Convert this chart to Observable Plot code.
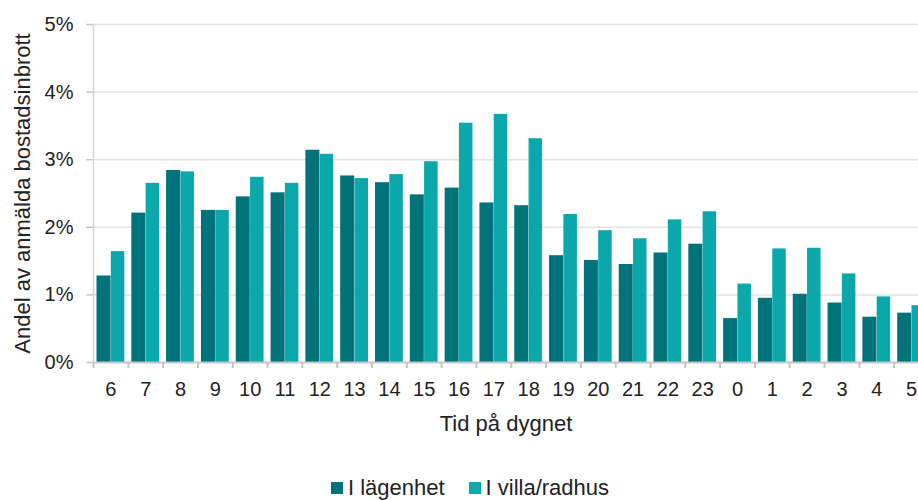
<!DOCTYPE html>
<html>
<head>
<meta charset="utf-8">
<script src="https://cdn.jsdelivr.net/npm/d3@7"></script>
<script src="https://cdn.jsdelivr.net/npm/@observablehq/plot@0.6"></script>
<style>
  html, body { margin: 0; padding: 0; background: #fff; overflow: hidden; width: 918px; height: 500px; }
  #chart svg { overflow: hidden; display: block; }
  #legend { position: absolute; top: 475px; left: 0; width: 918px; display: flex; justify-content: center;
    font-family: "Liberation Sans", Arial, sans-serif; font-size: 22px; color: #222; padding-left: 22px; box-sizing: border-box; }
  .item { display: flex; align-items: center; margin: 0 12px; }
  .sw { width: 12px; height: 12px; margin-right: 5px; }
</style>
</head>
<body>
<div id="chart"></div>
<div id="legend"></div>
<script>
const hours = ["6","7","8","9","10","11","12","13","14","15","16","17","18","19","20","21","22","23","0","1","2","3","4","5"];
const lagenhet = [1.28,2.21,2.84,2.25,2.45,2.51,3.14,2.76,2.66,2.48,2.58,2.36,2.32,1.58,1.51,1.45,1.62,1.75,0.65,0.95,1.01,0.88,0.67,0.73];
const villa = [1.64,2.65,2.82,2.25,2.74,2.65,3.08,2.72,2.78,2.97,3.54,3.67,3.31,2.19,1.95,1.83,2.11,2.23,1.16,1.68,1.69,1.31,0.97,0.84];
const seriesNames = ["I lägenhet", "I villa/radhus"];
const seriesColors = ["#00737A", "#0AA8AA"];
const yTicks = [0,1,2,3,4,5];
const xTitle = "Tid på dygnet";
const yTitle = "Andel av anmälda bostadsinbrott";

const rowsLag = hours.map((h, i) => ({hour: h, value: lagenhet[i], series: seriesNames[0]}));
const rowsVilla = hours.map((h, i) => ({hour: h, value: villa[i], series: seriesNames[1]}));

const W = 918, H = 470, ML = 93, MT = 24, MB = H - 362;
const xRight = 928.5;
const step = (xRight - ML) / hours.length;

const chart = Plot.plot({
  width: W, height: H,
  marginLeft: ML, marginRight: 0, marginTop: MT, marginBottom: MB,
  style: {fontFamily: "'Liberation Sans', Arial, sans-serif", fontSize: "20px", color: "#222", background: "#fff"},
  x: {type: "band", domain: hours, paddingInner: 0, paddingOuter: 0, align: 0.5, round: false, range: [ML, xRight], label: null},
  y: {domain: [0, 5], label: null},
  marks: [
    Plot.ruleY(yTicks.filter(d => d > 0), {stroke: "#e2e2e2", strokeWidth: 1.5}),
    Plot.barY(rowsLag, {x: "hour", y: "value", fill: seriesColors[0], insetLeft: 3.5, insetRight: 17.3}),
    Plot.barY(rowsVilla, {x: "hour", y: "value", fill: seriesColors[1], insetLeft: 17.8, insetRight: 3.5}),
    Plot.ruleY([0], {stroke: "#c6c6c6", strokeWidth: 2}),
    Plot.ruleX([hours[0]], {dx: -step / 2, y1: 0, y2: 5, stroke: "#d6d6d6", strokeWidth: 1.5}),
    Plot.axisY({ticks: yTicks, tickSize: 7, tickPadding: 13, tickFormat: d => d + "%", stroke: "#c6c6c6", strokeWidth: 1.5, fill: "#222", fontSize: 20, label: null}),
    Plot.axisX({tickSize: 0, tickPadding: 19, fontSize: 20, fill: "#222", label: null}),
    Plot.axisX({tickSize: 6, tickFormat: () => "", dx: -step / 2, stroke: "#c6c6c6", strokeWidth: 2, label: null}),
    Plot.text([xTitle], {text: d => d, frameAnchor: "bottom", dy: 61, fontSize: 22, fill: "#222", lineAnchor: "middle"}),
    Plot.text([yTitle], {text: d => d, frameAnchor: "left", dx: -70.5, rotate: -90, fontSize: 22, fill: "#222", textAnchor: "middle", lineAnchor: "middle"})
  ]
});
document.getElementById("chart").appendChild(chart);

const legend = document.getElementById("legend");
seriesNames.forEach((name, i) => {
  const item = document.createElement("div");
  item.className = "item";
  const sw = document.createElement("span");
  sw.className = "sw";
  sw.style.background = seriesColors[i];
  const t = document.createElement("span");
  t.textContent = name;
  item.appendChild(sw);
  item.appendChild(t);
  legend.appendChild(item);
});
</script>
</body>
</html>
